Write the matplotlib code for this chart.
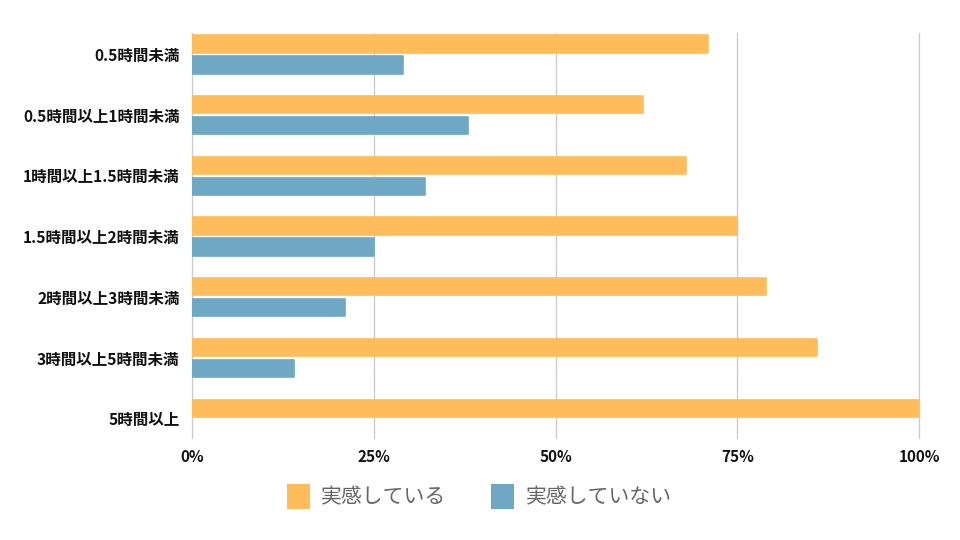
import matplotlib
matplotlib.use("Agg")
import matplotlib.pyplot as plt
from matplotlib.patches import Patch

plt.rcParams['font.family'] = ['Noto Sans CJK JP', 'DejaVu Sans']

categories = ["0.5時間未満", "0.5時間以上1時間未満", "1時間以上1.5時間未満",
              "1.5時間以上2時間未満", "2時間以上3時間未満", "3時間以上5時間未満", "5時間以上"]
felt = [71, 62, 68, 75, 79, 86, 100]
not_felt = [29, 38, 32, 25, 21, 14, 0]
series_names = ["実感している", "実感していない"]
xticks = [0, 25, 50, 75, 100]
xticklabels = ["0%", "25%", "50%", "75%", "100%"]

c_orange = "#FEBC5A"
c_blue = "#6FA8C4"

fig = plt.figure(figsize=(9.6, 5.4), dpi=100)
ax = fig.add_axes([192/960, 1-438/540, (919-192)/960, (438-33)/540])

idx = list(range(len(categories)))
h = 0.285
off = 0.173
ax.barh([i - off for i in idx], felt, height=h, color=c_orange, edgecolor=c_orange,
        linewidth=[1.2 if v > 0 else 0 for v in felt], joinstyle='round', zorder=3)
ax.barh([i + off for i in idx], not_felt, height=h, color=c_blue, edgecolor=c_blue,
        linewidth=[1.2 if v > 0 else 0 for v in not_felt], joinstyle='round', zorder=3)

ax.set_ylim(6.318, -0.354)
ax.set_xlim(0, 100)
ax.set_yticks(idx)
ax.set_yticklabels(categories, fontsize=11.2, fontweight='bold', color='#111111')
ax.set_xticks(xticks)
ax.set_xticklabels(xticklabels, fontsize=11, fontweight='bold', color='#111111')
ax.tick_params(axis='both', length=0)
ax.tick_params(axis='y', pad=9)
ax.tick_params(axis='x', pad=8)
for s in ax.spines.values():
    s.set_visible(False)
ax.grid(axis='x', color='#cccccc', linewidth=1, zorder=0)
for gl in ax.get_xgridlines():
    gl.set_clip_on(False)
ax.set_axisbelow(True)

handles = [Patch(facecolor=c_orange, edgecolor=c_orange, linewidth=1.5, joinstyle='round'),
           Patch(facecolor=c_blue, edgecolor=c_blue, linewidth=1.5, joinstyle='round')]
leg = fig.legend(handles, series_names, loc='center', bbox_to_anchor=(480/960, 1-497/540),
                 ncol=2, frameon=False, fontsize=15, handlelength=1.0, handleheight=1.3,
                 handletextpad=0.6, columnspacing=2.2)
for t in leg.get_texts():
    t.set_color('#666666')

fig.savefig("out.png", dpi=100)
